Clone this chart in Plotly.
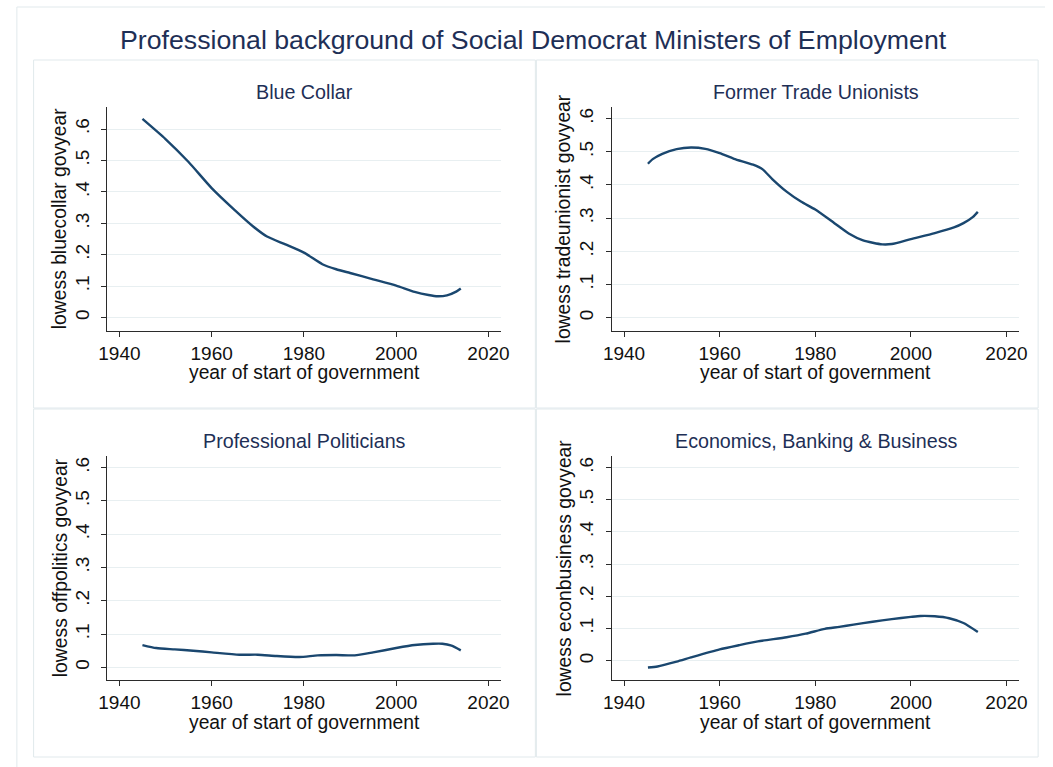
import plotly.graph_objects as go

W, H = 1053, 767

main_title = "Professional background of Social Democrat Ministers of Employment"
panel_titles = ["Blue Collar", "Former Trade Unionists",
                "Professional Politicians", "Economics, Banking & Business"]
y_titles = ["lowess bluecollar govyear", "lowess tradeunionist govyear",
            "lowess offpolitics govyear", "lowess econbusiness govyear"]
x_title = "year of start of government"
x_ticks = [1940, 1960, 1980, 2000, 2020]
y_ticks = [0, 0.1, 0.2, 0.3, 0.4, 0.5, 0.6]
y_ticklabels = ["0", ".1", ".2", ".3", ".4", ".5", ".6"]

years_bluecollar = [1945, 1950, 1955, 1960, 1965, 1969, 1972, 1976, 1980, 1984,
                    1987, 1990, 1995, 2000, 2004, 2007, 2009, 2011, 2013, 2014]
bluecollar = [0.632, 0.568, 0.495, 0.412, 0.342, 0.290, 0.258, 0.233, 0.207, 0.170,
              0.154, 0.142, 0.122, 0.102, 0.082, 0.072, 0.068, 0.071, 0.083, 0.093]

years_tradeunion = [1945, 1946, 1948, 1951, 1954, 1957, 1960, 1963, 1967, 1969,
                    1971, 1974, 1977, 1980, 1984, 1987, 1990, 1994, 1996, 2000,
                    2005, 2009, 2011, 2013, 2014]
tradeunion = [0.464, 0.478, 0.494, 0.508, 0.513, 0.509, 0.496, 0.479, 0.461, 0.447,
              0.418, 0.380, 0.350, 0.326, 0.285, 0.254, 0.233, 0.221, 0.222, 0.237,
              0.255, 0.272, 0.285, 0.304, 0.319]

years_offpolitics = [1945, 1948, 1952, 1956, 1960, 1966, 1970, 1974, 1979, 1983,
                     1987, 1991, 1995, 2000, 2004, 2008, 2010, 2012, 2014]
offpolitics = [0.067, 0.058, 0.054, 0.050, 0.045, 0.038, 0.038, 0.034, 0.031, 0.036,
               0.037, 0.036, 0.045, 0.058, 0.067, 0.071, 0.071, 0.065, 0.051]

years_econbusiness = [1945, 1947, 1951, 1954, 1960, 1964, 1968, 1974, 1978, 1982,
                      1985, 1988, 1992, 1996, 2000, 2002, 2005, 2008, 2011, 2014]
econbusiness = [-0.021, -0.018, -0.003, 0.010, 0.035, 0.048, 0.060, 0.073, 0.084, 0.099,
                0.105, 0.112, 0.121, 0.129, 0.136, 0.139, 0.138, 0.132, 0.117, 0.089]

series_x = [years_bluecollar, years_tradeunion, years_offpolitics, years_econbusiness]
series_y = [bluecollar, tradeunion, offpolitics, econbusiness]
y_ranges = [[-0.0424, 0.670], [-0.040, 0.635], [-0.038, 0.635], [-0.060, 0.636]]
x_range = [1937.4, 2022.7]

FONT = "Liberation Sans, Arial, Helvetica, sans-serif"
NAVY = "#1a476f"
TITLE_COL = "#1e2f56"
GRID = "#e8eff1"
BORDER = "#e1e9ec"
AXIS = "#2b2b2b"

# panel cell origins (px) and plot-area extents (px, absolute)
origins = [(25, 60), (536, 60), (25, 409), (536, 409)]
plot_x = [(100, 500), (612.5, 1027), (100, 500), (612.5, 1027)]
PY0, PY1 = 47, 271

fig = go.Figure()
annotations = []
shapes = []


def fx(px):
    return px / W


def fy(py):
    return 1 - py / H


for i in range(4):
    ox, oy = origins[i]
    x0, x1 = plot_x[i]
    xc = (x0 + x1) / 2
    n = "" if i == 0 else str(i + 1)
    fig.add_trace(go.Scatter(
        x=series_x[i], y=series_y[i], mode="lines",
        line=dict(color=NAVY, width=2.4, shape="spline", smoothing=0.6),
        xaxis="x" + n, yaxis="y" + n, showlegend=False, hoverinfo="x+y"))
    fig.layout["xaxis" + n] = dict(
        domain=[fx(x0), fx(x1)], anchor="y" + n, range=x_range,
        tickvals=x_ticks, ticks="outside", ticklen=5, tickcolor=AXIS,
        showline=True, linecolor=AXIS, linewidth=1, showgrid=False,
        zeroline=False, tickfont=dict(family=FONT, size=19, color="#111111"),
        ticklabelstandoff=0, fixedrange=True)
    fig.layout["yaxis" + n] = dict(
        domain=[fy(oy + PY1), fy(oy + PY0)], anchor="x" + n, range=y_ranges[i],
        tickvals=y_ticks, ticktext=y_ticklabels, tickangle=-90,
        ticks="outside", ticklen=5, tickcolor=AXIS,
        showline=True, linecolor=AXIS, linewidth=1,
        showgrid=True, gridcolor=GRID, gridwidth=1, zeroline=False,
        tickfont=dict(family=FONT, size=19, color="#111111"),
        ticklabelstandoff=5, fixedrange=True)
    # panel title
    annotations.append(dict(
        text=panel_titles[i], x=fx(xc), y=fy(oy + 32), xref="paper", yref="paper",
        xanchor="center", yanchor="middle", showarrow=False,
        font=dict(family=FONT, size=19.7, color=TITLE_COL)))
    # x title
    annotations.append(dict(
        text=x_title, x=fx(xc), y=fy(oy + 313), xref="paper", yref="paper",
        xanchor="center", yanchor="middle", showarrow=False,
        font=dict(family=FONT, size=19.3, color="#111111")))
    # y title
    annotations.append(dict(
        text=y_titles[i], x=fx(x0 - 48), y=fy(oy + 159), xref="paper", yref="paper",
        xanchor="center", yanchor="middle", showarrow=False, textangle=-90,
        font=dict(family=FONT, size=19.3, color="#111111")))
    # panel border
    shapes.append(dict(type="rect", xref="paper", yref="paper",
                       x0=fx(ox), x1=fx(ox + 510), y0=fy(oy), y1=fy(oy + 348),
                       line=dict(color=BORDER, width=1)))

annotations.append(dict(
    text=main_title, x=fx(533), y=fy(40), xref="paper", yref="paper",
    xanchor="center", yanchor="middle", showarrow=False,
    font=dict(family=FONT, size=26.7, color=TITLE_COL)))

# outer border (left and top edges visible)
shapes.append(dict(type="line", xref="paper", yref="paper",
                   x0=fx(8), x1=fx(8), y0=fy(7), y1=0, line=dict(color=BORDER, width=1)))
shapes.append(dict(type="line", xref="paper", yref="paper",
                   x0=fx(8), x1=1, y0=fy(7), y1=fy(7), line=dict(color=BORDER, width=1)))

fig.update_layout(
    width=W, height=H, margin=dict(l=0, r=0, t=0, b=0),
    paper_bgcolor="white", plot_bgcolor="white",
    annotations=annotations, shapes=shapes, showlegend=False)

fig.write_html("out.html")
